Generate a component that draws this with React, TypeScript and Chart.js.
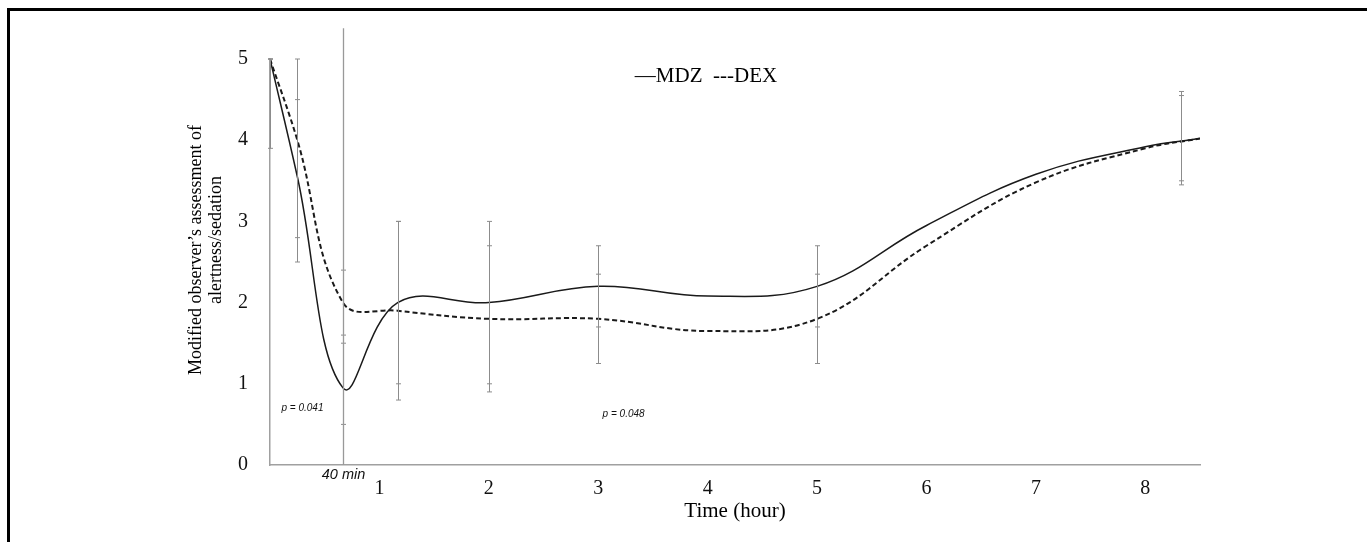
import { useEffect, useRef } from 'react';
import { Chart, registerables } from 'chart.js';

Chart.register(...registerables);

// ---- data ----
const timePoints = [0, 0.25, 0.667, 1.167, 2, 3, 4, 5, 6, 7, 8, 8.5];
const mdzValues = [5, 3.55, 0.95, 2.0, 2.0, 2.2, 2.08, 2.2, 2.95, 3.58, 3.92, 4.02];
const dexValues = [5, 4.0, 2.0, 1.9, 1.8, 1.8, 1.65, 1.8, 2.7, 3.48, 3.9, 4.02];

const errorTimes = [0, 0.25, 0.667, 1.167, 2, 3, 5, 8.33];
const mdzLow = [3.9, 2.5, 0.5, 1.0, 1.0, 1.7, 1.7, 3.5];
const mdzHigh = [5, 4.5, 1.5, 3.0, 3.0, 2.7, 2.7, 4.6];
const dexLow = [5, 2.8, 1.6, 0.8, 0.9, 1.25, 1.25, 3.45];
const dexHigh = [5, 5, 2.4, 3.0, 2.7, 2.35, 2.35, 4.55];

const xTickValues = [1, 2, 3, 4, 5, 6, 7, 8];
const yTickValues = [0, 1, 2, 3, 4, 5];

const markerTime = 0.667;
const markerTop = 5.38;
const markerLabel = '40 min';

const pValueTexts = ['p = 0.041', 'p = 0.048'];
const pValueTimes = [0.105, 3.04];
const pValueLevels = [0.7, 0.62];

const legendText = '\u2014MDZ  ---DEX';
const xTitle = 'Time (hour)';
const yTitleLines = ["Modified observer\u2019s assessment of", 'alertness/sedation'];

const SERIF = '"Liberation Serif", "Times New Roman", serif';
const SANS = '"Liberation Sans", Arial, sans-serif';
const ERR_COLOR = '#8c8c8c';

const overlayPlugin = {
  id: 'overlay',
  afterDatasetsDraw(chart: any) {
    const { ctx, scales, chartArea } = chart;
    const xs = scales.x;
    const ys = scales.y;
    ctx.save();
    // error bars
    const drawBar = (t: number, lo: number, hi: number) => {
      const px = Math.round(xs.getPixelForValue(t)) + 0.5;
      const y1 = ys.getPixelForValue(lo);
      const y2 = ys.getPixelForValue(hi);
      ctx.strokeStyle = ERR_COLOR;
      ctx.lineWidth = 1;
      ctx.beginPath();
      ctx.moveTo(px, y1);
      ctx.lineTo(px, y2);
      ctx.moveTo(px - 2.5, y1);
      ctx.lineTo(px + 2.5, y1);
      ctx.moveTo(px - 2.5, y2);
      ctx.lineTo(px + 2.5, y2);
      ctx.stroke();
    };
    errorTimes.forEach((t, i) => {
      drawBar(t, mdzLow[i], mdzHigh[i]);
      drawBar(t, dexLow[i], dexHigh[i]);
    });
    // 40 min marker line
    const mx = Math.round(xs.getPixelForValue(markerTime)) + 0.5;
    ctx.strokeStyle = '#999';
    ctx.lineWidth = 1.3;
    ctx.beginPath();
    ctx.moveTo(mx, ys.getPixelForValue(0));
    ctx.lineTo(mx, ys.getPixelForValue(markerTop));
    ctx.stroke();
    ctx.fillStyle = '#111';
    ctx.font = `italic 14.5px ${SANS}`;
    ctx.textAlign = 'center';
    ctx.textBaseline = 'middle';
    ctx.fillText(markerLabel, mx, chartArea.bottom + 10);

    // p values
    ctx.font = `italic 10px ${SANS}`;
    ctx.textAlign = 'left';
    pValueTexts.forEach((txt, i) => {
      ctx.fillText(txt, xs.getPixelForValue(pValueTimes[i]), ys.getPixelForValue(pValueLevels[i]));
    });

    // legend
    ctx.font = `21px ${SERIF}`;
    ctx.textAlign = 'center';
    ctx.fillStyle = '#000';
    ctx.fillText(legendText, 706, 76);

    // x title
    ctx.font = `21px ${SERIF}`;
    ctx.fillText(xTitle, (chartArea.left + chartArea.right) / 2, 511);

    // y title
    ctx.font = `18px ${SERIF}`;
    ctx.translate(206, 0);
    ctx.rotate(-Math.PI / 2);
    ctx.fillText(yTitleLines[0], -250, -10);
    ctx.fillText(yTitleLines[1], -240, 10);
    ctx.restore();
  },
};

export default function App() {
  const ref = useRef<HTMLCanvasElement | null>(null);
  useEffect(() => {
    if (!ref.current) return;
    const chart = new Chart(ref.current, {
      type: 'line',
      data: {
        datasets: [
          {
            label: 'MDZ',
            data: timePoints.map((t, i) => ({ x: t, y: mdzValues[i] })),
            borderColor: '#1a1a1a',
            borderWidth: 1.5,
            pointRadius: 0,
            tension: 0.4,
            fill: false,
          },
          {
            label: 'DEX',
            data: timePoints.map((t, i) => ({ x: t, y: dexValues[i] })),
            borderColor: '#1a1a1a',
            borderWidth: 2,
            borderDash: [5, 3],
            pointRadius: 0,
            tension: 0.4,
            fill: false,
          },
        ],
      },
      options: {
        animation: false,
        responsive: false,
        layout: { padding: { top: 59, right: 167, bottom: 0, left: 0 } },
        elements: { line: { capBezierPoints: false } },
        plugins: { legend: { display: false }, tooltip: { enabled: false } },
        scales: {
          x: {
            type: 'linear',
            min: 0,
            max: 8.5,
            grid: { display: false, drawTicks: false },
            border: { display: true, color: '#a0a0a0', width: 1.5 },
            afterBuildTicks: (s: any) => {
              s.ticks = xTickValues.map((v) => ({ value: v }));
            },
            afterFit: (s: any) => {
              s.height = 77;
            },
            ticks: {
              color: '#111',
              font: { family: SERIF, size: 20 },
              padding: 12,
              maxRotation: 0,
              autoSkip: false,
            },
          },
          y: {
            min: 0,
            max: 5,
            grid: { display: false, drawTicks: false },
            border: { display: true, color: '#a0a0a0', width: 1.5 },
            afterBuildTicks: (s: any) => {
              s.ticks = yTickValues.map((v) => ({ value: v }));
            },
            afterFit: (s: any) => {
              s.width = 270;
            },
            ticks: {
              color: '#111',
              font: { family: SERIF, size: 20 },
              padding: 22,
            },
          },
        },
      },
      plugins: [overlayPlugin],
    });
    return () => chart.destroy();
  }, []);

  return (
    <>
      <div
        style={{
          position: 'fixed',
          left: 7,
          top: 8,
          right: 0,
          bottom: 0,
          borderLeft: '3px solid #000',
          borderTop: '3px solid #000',
        }}
      />
      <canvas
        ref={ref}
        width={1367}
        height={542}
        style={{ position: 'fixed', left: 0, top: 0, width: 1367, height: 542 }}
      />
    </>
  );
}
